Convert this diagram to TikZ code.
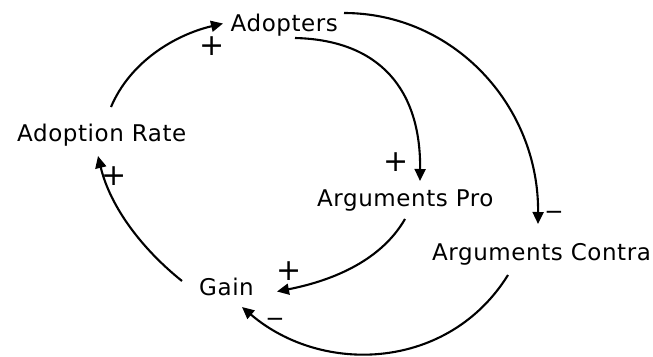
\documentclass[tikz,border=0pt]{standalone}
\usepackage{fontspec}
\setmainfont{DejaVu Sans}[LetterSpace=2.5]
\newfontfamily\signfont{DejaVu Sans}
\usetikzlibrary{arrows.meta}
\tikzset{
  lbl/.style={anchor=base west, inner sep=0pt, font=\fontsize{23}{28}\selectfont},
  sgn/.style={inner sep=0pt, font=\signfont\fontsize{30}{30}\selectfont},
  sgnm/.style={inner sep=0pt, font=\signfont\fontsize{23}{28}\selectfont},
  conn/.style={line width=2.1pt, -{Triangle[length=12pt,width=11pt]}},
}
\begin{document}
\begin{tikzpicture}[x=1pt,y=-1pt]
\useasboundingbox (0,0) rectangle (653,356);
% nodes
\node[lbl] (adopters) at (230.5,31) {Adopters};
\node[lbl] (rate) at (17,141) {Adoption Rate};
\node[lbl] (pro) at (317,206) {Arguments Pro};
\node[lbl] (contra) at (432,260.5) {Arguments Contra};
\node[lbl] (gain) at (199,295.5) {Gain};
% connector ends
\coordinate (rateOut) at (111,107);
\coordinate (adoptIn) at (223,23.5);
\coordinate (adoptOutA) at (295,38);
\coordinate (proIn) at (420,181);
\coordinate (adoptOutB) at (344,13);
\coordinate (contraIn) at (538,224);
\coordinate (proOut) at (405,219);
\coordinate (gainInA) at (277,291.5);
\coordinate (contraOut) at (508,275);
\coordinate (gainInB) at (242,307);
\coordinate (gainOut) at (182,281);
\coordinate (rateIn) at (98,156);
% connectors
\draw[conn] (rateOut) .. controls (130,62) and (174.5,35) .. (adoptIn);
\draw[conn] (adoptOutA) .. controls (380,40) and (421,90) .. (proIn);
\draw[conn] (adoptOutB) .. controls (453,13) and (539,105) .. (contraIn);
\draw[conn] (proOut) .. controls (379.4,263.5) and (326.7,281.8) .. (gainInA);
\draw[conn] (contraOut) .. controls (449,370) and (323,376) .. (gainInB);
\draw[conn] (gainOut) .. controls (142,249) and (110.3,207) .. (rateIn);
% polarity signs
\node[sgn] (s1) at (212,46.5) {+};
\node[sgn] (s2) at (396,162.5) {+};
\node[sgnm] (s3) at (554,215) {−};
\node[sgn] (s4) at (289,271) {+};
\node[sgnm] (s5) at (275,322) {−};
\node[sgn] (s6) at (114,176) {+};
\end{tikzpicture}
\end{document}
